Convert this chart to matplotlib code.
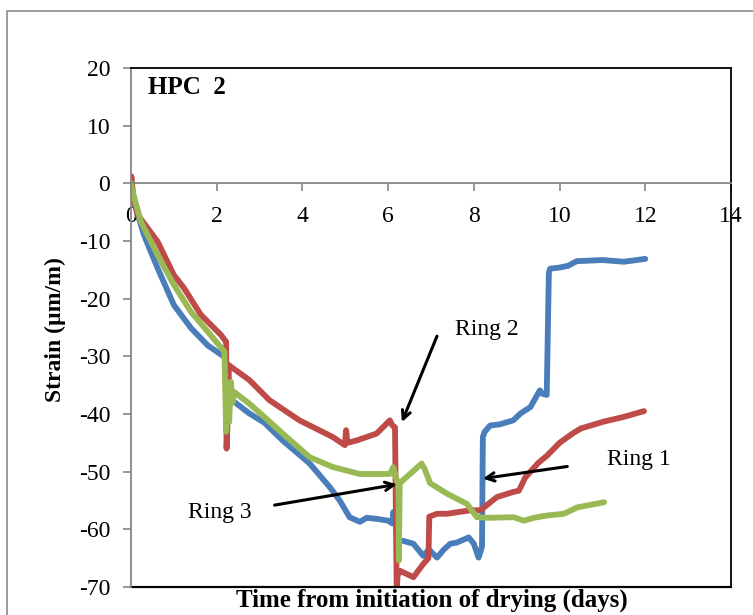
import matplotlib
matplotlib.use("Agg")
import matplotlib.pyplot as plt
from matplotlib.patches import Rectangle
from matplotlib.lines import Line2D

plt.rcParams['font.family'] = ['Liberation Serif', 'DejaVu Serif']

# ---- data ----
ring1_x = [0, 0.02, 0.3, 0.62, 1.0, 1.4, 1.79, 2.18, 2.22, 2.24, 2.27, 2.3, 2.41, 2.76,
           3.11, 3.54, 4.17, 4.64, 4.87, 5.1, 5.34, 5.5, 5.75, 6.0, 6.1, 6.12, 6.2, 6.22,
           6.35, 6.59, 6.82, 6.95, 7.14, 7.3, 7.45, 7.6, 7.88, 8.0, 8.11, 8.17, 8.19, 8.21,
           8.25, 8.38, 8.6, 8.92, 9.09, 9.32, 9.54, 9.6, 9.7, 9.75, 9.78, 10.0, 10.2, 10.4,
           11.0, 11.5, 12.0]
ring1_y = [-0.5, -2, -8.9, -14.7, -21.1, -25.1, -28.1, -30.1, -31, -36, -32, -38, -37.9, -39.9,
           -41.5, -44.6, -48.6, -52.7, -55, -57.9, -58.7, -58.0, -58.2, -58.5, -59, -57, -60.2, -62,
           -62, -62.5, -64.6, -63.5, -64.9, -63.5, -62.5, -62.3, -61.4, -62.5, -64.9, -63.5, -63, -44,
           -43.1, -42, -41.8, -41.1, -39.9, -38.8, -35.9, -36.5, -36.7, -15.5, -14.8, -14.6, -14.3, -13.5,
           -13.3, -13.6, -13.1]

ring2_x = [0, 0.01, 0.05, 0.15, 0.62, 1.0, 1.24, 1.63, 2.1, 2.22, 2.23, 2.26, 2.28, 2.33,
           2.76, 3.23, 3.93, 4.71, 4.99, 5.02, 5.05, 5.26, 5.73, 6.04, 6.1, 6.16, 6.2, 6.22,
           6.28, 6.59, 6.82, 6.94, 6.96, 7.14, 7.37, 7.92, 8.15, 8.54, 8.93, 9.05, 9.2, 9.5,
           9.71, 10.0, 10.34, 10.5, 11.04, 11.5, 11.97]
ring2_y = [0.5, 1.2, -2, -5.4, -10.1, -15.9, -18.2, -22.8, -26.3, -27.5, -46, -40, -31.5, -31.8,
           -34.1, -37.6, -41.1, -44, -45.4, -42.8, -45, -44.6, -43.4, -41.1, -42, -42.3, -71, -68,
           -67.2, -68.3, -66, -65, -57.8, -57.3, -57.3, -56.7, -56.7, -54.4, -53.5, -53.3, -51, -48.5,
           -47.2, -45, -43.2, -42.5, -41.3, -40.5, -39.5]

ring3_x = [0, 0.02, 0.23, 0.62, 1.0, 1.4, 1.79, 2.18, 2.22, 2.26, 2.29, 2.33, 2.37, 2.41,
           2.76, 3.11, 3.54, 4.17, 4.71, 5.34, 6.04, 6.12, 6.2, 6.24, 6.25, 6.27, 6.51, 6.78,
           6.85, 6.98, 7.37, 7.84, 8.07, 8.3, 8.93, 9.17, 9.4, 9.71, 10.1, 10.41, 11.04]
ring3_y = [0, -1, -6.6, -12.4, -17.6, -22.3, -25.7, -29.2, -43.1, -35, -41.4, -34.4, -38, -36.2,
           -38.2, -40.5, -43.4, -47.5, -49.2, -50.4, -50.4, -49.2, -51.5, -52.1, -65.4, -52, -50.4, -48.6,
           -49.5, -52, -53.8, -55.6, -57.9, -58, -57.9, -58.5, -58, -57.6, -57.3, -56.2, -55.3]

x_ticks = [0, 2, 4, 6, 8, 10, 12, 14]
y_ticks = [20, 10, 0, -10, -20, -30, -40, -50, -60, -70]

annotations = [
    ("Ring 1", (11.1, -47.9), (10.18, -49.1), (8.21, -51.2)),
    ("Ring 2", (7.56, -25.4), (7.14, -26.5), (6.32, -41.4)),
    ("Ring 3", (1.32, -57.1), (3.35, -55.8), (6.20, -52.2)),
]

colors = {'r1': '#4A7EBB', 'r2': '#BE4B48', 'r3': '#98B954'}

# ---- figure ----
W, H = 753, 615
fig = plt.figure(figsize=(W / 100, H / 100), dpi=100)
fig.patch.set_facecolor('white')
fig.patches.append(Rectangle((7 / W, -0.1), 1.2, (H - 11) / H + 0.1,
                             transform=fig.transFigure, fill=False,
                             edgecolor='#8c8c8c', linewidth=1.2))

ax = fig.add_axes([131 / W, (H - 587) / H, (731 - 131) / W, (587 - 68) / H])

lw = 4.2
for xs, ys, c in [(ring1_x, ring1_y, colors['r1']),
                  (ring2_x, ring2_y, colors['r2']),
                  (ring3_x, ring3_y, colors['r3'])]:
    ax.plot(xs, ys, color=c, lw=lw, solid_capstyle='round', solid_joinstyle='round')

ax.set_xlim(0, 14)
ax.set_ylim(-70, 20)
ax.set_xticks(x_ticks)
ax.set_yticks(y_ticks)
ax.set_yticklabels([str(v) for v in y_ticks])

for s in ['top', 'right']:
    ax.spines[s].set_color('black')
    ax.spines[s].set_linewidth(1.3)
ax.spines['left'].set_color('#868686')
ax.spines['left'].set_linewidth(1.3)
ax.spines['bottom'].set_position(('data', 0))
ax.spines['bottom'].set_color('#868686')
ax.spines['bottom'].set_linewidth(1.3)
ax.add_line(Line2D([0, 1], [0, 0], transform=ax.transAxes, color='black', lw=1.6, clip_on=False))

ax.tick_params(axis='both', direction='out', length=6, width=1.2, color='#868686',
               labelsize=17)
ax.tick_params(axis='x', pad=10)
ax.tick_params(axis='y', pad=9)

ax.text(0.4, 16.6, "HPC  2", fontsize=18, fontweight='bold', va='center', ha='left')

for label, tpos, tail, head in annotations:
    ax.text(tpos[0], tpos[1], label, fontsize=17, ha='left', va='center')
    ax.annotate('', xy=head, xytext=tail,
                arrowprops=dict(arrowstyle='->,head_length=0.6,head_width=0.3',
                                lw=2.2, color='black', shrinkA=0, shrinkB=0))

fig.text(55 / W, (H - 330) / H, "Strain (µm/m)", rotation=90, fontsize=17,
         fontweight='bold', ha='center', va='center')
fig.text(432 / W, 8 / H, "Time from initiation of drying (days)", fontsize=18,
         fontweight='bold', ha='center', va='baseline')

fig.savefig('out.png', dpi=100, facecolor='white')
